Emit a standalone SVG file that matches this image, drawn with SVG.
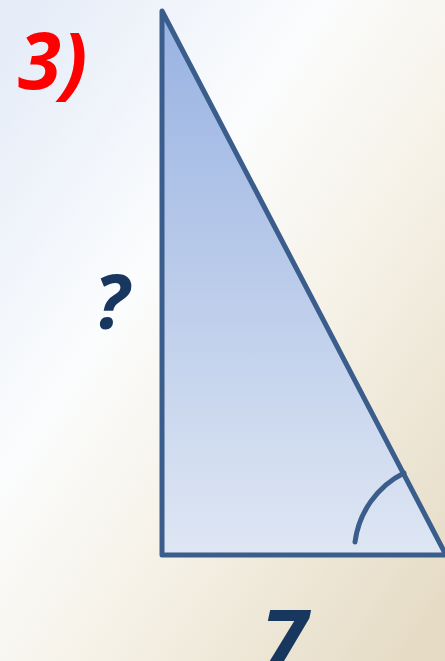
<svg xmlns="http://www.w3.org/2000/svg" width="445" height="661" viewBox="0 0 445 661">
<defs>
<linearGradient id="bg" x1="0" y1="0.1" x2="0.9" y2="1">
<stop offset="0" stop-color="#e6edf8"/>
<stop offset="0.35" stop-color="#fbfcfd"/>
<stop offset="0.6" stop-color="#f6f2e8"/>
<stop offset="1" stop-color="#e6dcc6"/>
</linearGradient>
<linearGradient id="tri" x1="0" y1="0" x2="0" y2="1">
<stop offset="0" stop-color="#98b2e2"/>
<stop offset="1" stop-color="#dee6f3"/>
</linearGradient>
<style>
.lbl{font-family:"Open Sans","Liberation Sans",sans-serif;font-weight:bold;font-style:italic;fill:#17375e}
.edge{fill:none;stroke:#3a5d8c;stroke-width:5;stroke-linecap:round;stroke-linejoin:round}
</style>
</defs>
<rect width="445" height="661" fill="url(#bg)"/>
<g id="triangle">
<path d="M162,11 L162,555 L446,555 Z" fill="url(#tri)" stroke="#3a5d8c" stroke-width="5" stroke-linejoin="round"/>
</g>
<g id="connectors">
<path class="edge" d="M355,542 A90,90 0 0 1 404,473"/>
</g>
<g id="label-3">
<text x="18" y="89" font-family="'Open Sans','Liberation Sans',sans-serif" font-weight="bold" font-style="italic" font-size="78" fill="#ff0000">3)</text>
</g>
<g id="label-q">
<text class="lbl" x="94" y="329" font-size="76">?</text>
</g>
<g id="label-7">
<text class="lbl" x="260" y="672" font-size="86">7</text>
</g>
</svg>
